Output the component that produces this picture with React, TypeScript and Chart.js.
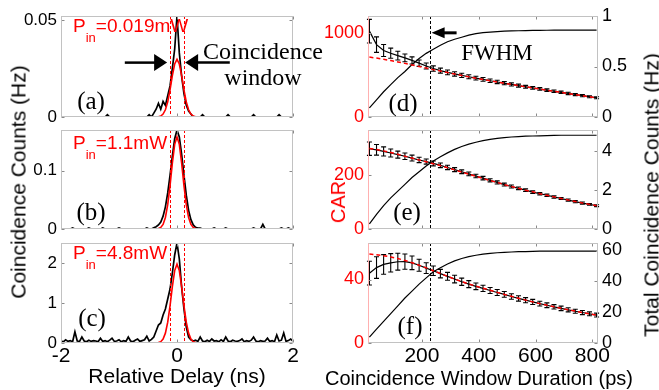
import { useEffect, useRef } from "react";
import { Chart, registerables } from "chart.js";

Chart.register(...registerables);

const SANS = "'Liberation Sans', Arial, Helvetica, sans-serif";
const SERIF = "'Liberation Serif', 'Times New Roman', serif";
const RED = "#ff0000";

// ---------------- left column: coincidence histograms ----------------
// histogram bin centres, -2 ns .. 2 ns in 0.04 ns steps
const DELAY_NS = Array.from({ length: 101 }, (_, i) => Math.round((-2 + i * 0.04) * 100) / 100);
const DELAY_TICKS = [-2, 0, 2];

const COUNTS_A = [
  0, 0, 0, 0, 0, 0, 0, 0, 0, 0,
  0, 0, 0, 0, 0, 0, 0, 0, 0, 0,
  0.0012, 0, 0, 0, 0, 0, 0, 0, 0, 0,
  0, 0, 0, 0, 0, 0, 0, 0, 0.0012, 0,
  0.002, 0.004, 0.007, 0.004, 0.008, 0.006, 0.011, 0.016, 0.025, 0.035,
  0.052, 0.033, 0.021, 0.012, 0.006, 0.003, 0.0015, 0, 0, 0,
  0, 0.0012, 0, 0, 0, 0, 0, 0, 0, 0,
  0, 0, 0.0012, 0, 0, 0, 0, 0, 0, 0,
  0, 0, 0, 0.0012, 0, 0, 0, 0, 0, 0,
  0, 0, 0, 0, 0.0012, 0, 0, 0, 0, 0,
  0,
];
const COUNTS_B = [
  0, 0, 0, 0, 0, 0.0017, 0, 0, 0, 0,
  0, 0, 0.0017, 0, 0, 0, 0, 0, 0.0017, 0,
  0, 0, 0, 0, 0, 0.0017, 0, 0, 0, 0,
  0, 0, 0, 0, 0, 0, 0, 0.0017, 0, 0,
  0.002, 0.004, 0.007, 0.012, 0.022, 0.038, 0.062, 0.092, 0.125, 0.155,
  0.17, 0.158, 0.128, 0.092, 0.058, 0.032, 0.016, 0.007, 0.003, 0.0017,
  0.0017, 0, 0, 0, 0, 0, 0.0017, 0, 0, 0,
  0, 0.0017, 0, 0, 0, 0, 0, 0, 0, 0,
  0, 0, 0, 0.0017, 0, 0, 0, 0.008, 0, 0,
  0, 0, 0, 0, 0, 0.0017, 0, 0, 0.0017, 0,
  0,
];
const COUNTS_C = [
  0.05, 0.03, 0.08, 0.04, 0.06, 0.03, 0.28, 0.05, 0.04, 0.15,
  0.05, 0.03, 0.07, 0.04, 0.06, 0.05, 0.03, 0.12, 0.04, 0.06,
  0.03, 0.07, 0.12, 0.04, 0.05, 0.08, 0.03, 0.06, 0.04, 0.15,
  0.05, 0.03, 0.07, 0.1, 0.04, 0.06, 0.08, 0.17, 0.05, 0.09,
  0.15, 0.3, 0.45, 0.5, 0.7, 0.85, 1.1, 1.35, 1.75, 2.2,
  2.5, 2.1, 1.4, 0.85, 0.4, 0.15, 0.08, 0.05, 0.07, 0.04,
  0.15, 0.05, 0.03, 0.07, 0.04, 0.1, 0.05, 0.06, 0.03, 0.08,
  0.04, 0.15, 0.05, 0.03, 0.07, 0.05, 0.04, 0.06, 0.1, 0.03,
  0.06, 0.04, 0.07, 0.15, 0.05, 0.03, 0.06, 0.04, 0.05, 0.12,
  0.04, 0.06, 0.03, 0.2, 0.05, 0.07, 0.25, 0.04, 0.06, 0.1,
  0.05,
];

// Gaussian fits (red)
const FIT_DELAY_NS = [-2, -0.4, -0.36, -0.32, -0.28, -0.24, -0.2, -0.16, -0.12, -0.08, -0.04, 0,
  0.04, 0.08, 0.12, 0.16, 0.2, 0.24, 0.28, 0.32, 0.36, 0.4, 2];
const FIT_A = [0, 0, 0.00004, 0.00015, 0.0005, 0.0015, 0.0037, 0.0078, 0.014, 0.0213, 0.0273, 0.0297,
  0.0273, 0.0213, 0.014, 0.0078, 0.0037, 0.0015, 0.0005, 0.00015, 0.00004, 0, 0];
const FIT_B = [0, 0, 0.0002, 0.0008, 0.0027, 0.0079, 0.0198, 0.0417, 0.0746, 0.1131, 0.1454, 0.158,
  0.1454, 0.1131, 0.0746, 0.0417, 0.0198, 0.0079, 0.0027, 0.0008, 0.0002, 0, 0];
const FIT_C = [0, 0, 0.0024, 0.0099, 0.0335, 0.0985, 0.246, 0.52, 0.93, 1.41, 1.81, 1.97,
  1.81, 1.41, 0.93, 0.52, 0.246, 0.0985, 0.0335, 0.0099, 0.0024, 0, 0];
const FWHM_EDGES_NS = [-0.115, 0.115];

// ---------------- right column: CAR vs window ----------------
const WINDOW_PS = [15, 40, 65, 90, 115, 140, 165, 190, 215, 240, 265, 290, 315, 340, 365, 390, 415,
  440, 465, 490, 515, 540, 565, 590, 615, 640, 665, 690, 715, 740, 765, 790, 815];
const WINDOW_TICKS = [200, 400, 600, 800];
const FWHM_PS = 230;

const CAR_D = [1020, 860, 790, 758, 730, 702, 672, 640, 606, 576, 551, 530, 512, 495, 478, 462, 447,
  431, 416, 402, 387, 373, 359, 346, 333, 319, 306, 293, 280, 267, 254, 241, 229];
const CAR_D_ERR = [140, 92, 72, 60, 52, 46, 42, 38, 35, 32, 30, 28, 26, 25, 24, 23, 22, 21, 20, 19,
  18, 18, 17, 16, 16, 15, 15, 14, 14, 13, 13, 12, 12];
const CAR_D_FIT = [712, 700, 686, 670, 654, 637, 619, 600, 582, 563, 546, 528, 511, 494, 477, 461, 446,
  431, 416, 401, 387, 373, 359, 346, 333, 318, 306, 292, 279, 266, 253, 240, 228];
const TOTAL_D = [0.09, 0.17, 0.25, 0.32, 0.39, 0.45, 0.52, 0.58, 0.63, 0.67, 0.71, 0.745, 0.77, 0.79,
  0.81, 0.825, 0.835, 0.84, 0.845, 0.85, 0.852, 0.854, 0.856, 0.857, 0.858, 0.859, 0.86, 0.86, 0.86,
  0.86, 0.86, 0.86, 0.86];

const CAR_E = [300, 296, 290, 284, 278, 272, 265, 258, 252, 245, 238, 230, 222, 214, 206, 198, 190,
  182, 174, 166, 159, 152, 145, 138, 132, 126, 120, 114, 108, 102, 97, 92, 87];
const CAR_E_ERR = [25, 20, 17, 15, 13, 12, 11, 10, 9.5, 9, 8.5, 8, 7.5, 7, 7, 6.5, 6.5, 6, 6, 5.5,
  5.5, 5, 5, 5, 4.5, 4.5, 4.5, 4, 4, 4, 4, 3.5, 3.5];
const CAR_E_FIT = [301, 297, 292, 286, 279, 272, 265, 258, 251, 244, 237, 229, 221, 213, 205, 197, 189,
  181, 174, 166, 159, 152, 145, 139, 132, 126, 120, 114, 108, 103, 97, 92, 87];
const TOTAL_E = [0.26, 0.75, 1.2, 1.6, 1.95, 2.3, 2.65, 2.95, 3.25, 3.5, 3.72, 3.92, 4.1, 4.25, 4.37,
  4.47, 4.55, 4.62, 4.67, 4.71, 4.74, 4.76, 4.78, 4.79, 4.8, 4.81, 4.82, 4.83, 4.83, 4.83, 4.83, 4.83, 4.83];

const CAR_F = [44, 47.5, 49.5, 50.5, 51.2, 51.3, 50.5, 49, 47.2, 45.5, 43.7, 42, 40.3, 38.6, 37.1,
  35.7, 34.4, 33.1, 31.8, 30.6, 29.3, 28.1, 27, 25.9, 24.8, 23.8, 22.8, 21.8, 20.9, 20, 19.2, 18.4, 17.6];
const CAR_F_ERR = [7.5, 6.8, 6.2, 5.8, 5.3, 4.8, 4.3, 3.8, 3.4, 3, 2.7, 2.5, 2.4, 2.3, 2.2, 2.1, 2,
  1.9, 1.9, 1.8, 1.7, 1.7, 1.6, 1.6, 1.5, 1.5, 1.4, 1.4, 1.3, 1.3, 1.3, 1.2, 1.2];
const CAR_F_FIT = [56, 55.6, 55, 54.2, 53.2, 52, 50.6, 49, 47.3, 45.5, 43.8, 42, 40.3, 38.7, 37.2,
  35.8, 34.5, 33.2, 31.9, 30.6, 29.4, 28.2, 27, 25.9, 24.8, 23.8, 22.8, 21.9, 21, 20.1, 19.2, 18.4, 17.6];
const TOTAL_F = [3.8, 9, 14, 19, 24, 29, 33.5, 38, 42, 46, 48.5, 51, 53, 54.5, 55.7, 56.6, 57.3, 57.8,
  58.2, 58.5, 58.7, 58.9, 59, 59.1, 59.2, 59.2, 59.3, 59.3, 59.3, 59.3, 59.3, 59.3, 59.3];

// ---------------- helpers ----------------
const pts = (xs: number[], ys: number[]) => xs.map((x, i) => ({ x, y: ys[i] }));

type Arrow = { x1: number; y1: number; x2: number; y2: number; head: number; half: number; width: number };
type FrameCfg = {
  leftSpine?: string;
  mirrorY: boolean;
  vlines: { x: number; color: string }[];
  arrows: Arrow[];
};

function framePlugin(cfg: FrameCfg) {
  return {
    id: "frame",
    afterDatasetDraw(chart: any, args: any) {
      const ds = chart.data.datasets[args.index];
      if (!ds.errors) return;
      const xs = chart.scales.x;
      const ys = chart.scales[ds.yAxisID || "y"];
      const ctx = chart.ctx;
      ctx.save();
      ctx.strokeStyle = "#000";
      ctx.lineWidth = 1.1;
      ds.data.forEach((p: any, i: number) => {
        const px = xs.getPixelForValue(p.x);
        const yLo = ys.getPixelForValue(p.y - ds.errors[i]);
        const yHi = ys.getPixelForValue(p.y + ds.errors[i]);
        ctx.beginPath();
        ctx.moveTo(px, yLo);
        ctx.lineTo(px, yHi);
        ctx.moveTo(px - 2.5, yLo);
        ctx.lineTo(px + 2.5, yLo);
        ctx.moveTo(px - 2.5, yHi);
        ctx.lineTo(px + 2.5, yHi);
        ctx.stroke();
      });
      ctx.restore();
    },
    afterDatasetsDraw(chart: any) {
      const { ctx, chartArea: a, scales } = chart;
      const xs = scales.x;
      const ys = scales.y;
      ctx.save();
      ctx.lineWidth = 1;
      ctx.setLineDash([3, 2]);
      for (const v of cfg.vlines) {
        const px = Math.round(xs.getPixelForValue(v.x)) + 0.5;
        ctx.strokeStyle = v.color;
        ctx.beginPath();
        ctx.moveTo(px, a.top);
        ctx.lineTo(px, a.bottom);
        ctx.stroke();
      }
      ctx.setLineDash([]);
      ctx.fillStyle = "#000";
      ctx.strokeStyle = "#000";
      for (const ar of cfg.arrows) {
        const x1 = xs.getPixelForValue(ar.x1);
        const y1 = ys.getPixelForValue(ar.y1);
        const x2 = xs.getPixelForValue(ar.x2);
        const y2 = ys.getPixelForValue(ar.y2);
        const ang = Math.atan2(y2 - y1, x2 - x1);
        const c = Math.cos(ang);
        const s = Math.sin(ang);
        const bx = x2 - c * ar.head;
        const by = y2 - s * ar.head;
        ctx.lineWidth = ar.width;
        ctx.beginPath();
        ctx.moveTo(x1, y1);
        ctx.lineTo(bx + c, by + s);
        ctx.stroke();
        ctx.beginPath();
        ctx.moveTo(x2, y2);
        ctx.lineTo(bx - s * ar.half, by + c * ar.half);
        ctx.lineTo(bx + s * ar.half, by - c * ar.half);
        ctx.closePath();
        ctx.fill();
      }
      ctx.restore();
    },
    afterDraw(chart: any) {
      const { ctx, chartArea: a, scales } = chart;
      const L = Math.round(a.left) + 0.5;
      const R = Math.round(a.right) - 0.5;
      const T = Math.round(a.top) + 0.5;
      const B = Math.round(a.bottom) - 0.5;
      const TL = 3;
      ctx.save();
      ctx.lineWidth = 1;
      ctx.strokeStyle = "#8a8a8a";
      const line = (x1: number, y1: number, x2: number, y2: number) => {
        ctx.beginPath();
        ctx.moveTo(x1, y1);
        ctx.lineTo(x2, y2);
        ctx.stroke();
      };
      for (const t of scales.x.ticks) {
        const px = Math.round(scales.x.getPixelForValue(t.value)) + 0.5;
        line(px, B, px, B - TL);
        line(px, T, px, T + TL);
      }
      for (const t of scales.y.ticks) {
        const py = Math.round(scales.y.getPixelForValue(t.value)) + 0.5;
        line(L, py, L + TL, py);
        if (cfg.mirrorY) line(R, py, R - TL, py);
      }
      if (scales.y2) {
        for (const t of scales.y2.ticks) {
          const py = Math.round(scales.y2.getPixelForValue(t.value)) + 0.5;
          line(R, py, R - TL, py);
        }
      }
      ctx.strokeStyle = "#c2c2c2";
      ctx.strokeRect(L, T, R - L, B - T);
      if (cfg.leftSpine) {
        ctx.strokeStyle = cfg.leftSpine;
        line(L, T, L, B);
      }
      ctx.restore();
    },
  };
}

const noPad = (s: any) => {
  s.paddingTop = 0;
  s.paddingBottom = 0;
  s.paddingLeft = 0;
  s.paddingRight = 0;
};
const setTicks = (vals: number[]) => (s: any) => {
  s.ticks = vals.map((v) => ({ value: v }));
};
const fmt = (v: any) => String(v);

function xScale(min: number, max: number, ticks: number[], bottom: boolean, title: string | null) {
  return {
    type: "linear",
    min,
    max,
    grid: { display: false, drawTicks: false },
    border: { display: false },
    afterBuildTicks: setTicks(ticks),
    afterFit: (s: any) => {
      s.height = bottom ? 47 : 12;
      noPad(s);
    },
    ticks: {
      display: bottom,
      autoSkip: false,
      maxRotation: 0,
      padding: 1,
      color: "#000",
      font: { family: SANS, size: 21 },
      callback: fmt,
    },
    title: { display: bottom && !!title, text: title || "", color: "#000", font: { family: SANS, size: 21 }, padding: 0 },
  };
}

function yScale(max: number, ticks: number[], width: number, color: string, size: number, position: string) {
  return {
    type: "linear",
    position,
    min: 0,
    max,
    grid: { display: false, drawTicks: false },
    border: { display: false },
    afterBuildTicks: setTicks(ticks),
    afterFit: (s: any) => {
      s.width = width;
      noPad(s);
    },
    ticks: { autoSkip: false, padding: 4, color, font: { family: SANS, size }, callback: fmt },
  };
}

const baseOptions = {
  animation: false,
  responsive: false,
  devicePixelRatio: 1,
  events: [],
  plugins: { legend: { display: false }, tooltip: { enabled: false } },
};

function leftPanel(counts: number[], fit: number[], yMax: number, yTicks: number[], bottom: boolean, arrows: Arrow[]) {
  return {
    type: "line",
    data: {
      datasets: [
        { data: pts(FIT_DELAY_NS, fit), borderColor: RED, borderWidth: 1.6, pointRadius: 0, order: 0 },
        { data: pts(DELAY_NS, counts), borderColor: "#000", borderWidth: 1.7, pointRadius: 0, order: 1 },
      ],
    },
    options: {
      ...baseOptions,
      layout: { padding: { top: 10, right: 7, bottom: 0, left: 0 } },
      scales: {
        x: xScale(-2, 2, DELAY_TICKS, bottom, "Relative Delay (ns)"),
        y: yScale(yMax, yTicks, 61, "#000", 17, "left"),
      },
    },
    plugins: [
      framePlugin({
        mirrorY: true,
        vlines: FWHM_EDGES_NS.map((x) => ({ x, color: RED })),
        arrows,
      }),
    ],
  };
}

function rightPanel(
  car: number[], err: number[], fit: number[], total: number[],
  yMax: number, yTicks: number[], y2Max: number, y2Ticks: number[], bottom: boolean, arrows: Arrow[],
) {
  return {
    type: "line",
    data: {
      datasets: [
        { data: pts(WINDOW_PS, fit), yAxisID: "y", borderColor: RED, borderDash: [4, 3], borderWidth: 1.5, pointRadius: 0, order: 0 },
        { data: pts(WINDOW_PS, car), yAxisID: "y", errors: err, borderColor: "#000", borderWidth: 1.2, pointRadius: 0, order: 1 },
        { data: pts(WINDOW_PS, total), yAxisID: "y2", borderColor: "#000", borderWidth: 1.2, pointRadius: 0, order: 2 },
      ],
    },
    options: {
      ...baseOptions,
      layout: { padding: { top: 10, right: 0, bottom: 0, left: 0 } },
      scales: {
        x: xScale(10, 820, WINDOW_TICKS, bottom, null),
        y: yScale(yMax, yTicks, 60, RED, 18, "left"),
        y2: yScale(y2Max, y2Ticks, 55, "#000", 18, "right"),
      },
    },
    plugins: [
      framePlugin({
        leftSpine: "#ffb0b0",
        mirrorY: false,
        vlines: [{ x: FWHM_PS, color: "#000" }],
        arrows,
      }),
    ],
  };
}

const ARROWS_A: Arrow[] = [
  { x1: -0.9, y1: 0.028, x2: -0.17, y2: 0.028, head: 13, half: 8.5, width: 2.5 },
  { x1: 0.91, y1: 0.028, x2: 0.14, y2: 0.028, head: 13, half: 8.5, width: 2.5 },
];
const ARROWS_D: Arrow[] = [{ x1: 322, y1: 1000, x2: 234, y2: 1000, head: 13, half: 5.5, width: 3 }];

type Box = { left: number; top: number; width: number; height: number };

function ChartCanvas({ box, make }: { box: Box; make: () => any }) {
  const ref = useRef<HTMLCanvasElement>(null);
  useEffect(() => {
    const chart = new Chart(ref.current as HTMLCanvasElement, make());
    return () => chart.destroy();
  }, []);
  return (
    <canvas
      ref={ref}
      width={box.width}
      height={box.height}
      style={{ position: "absolute", left: box.left, top: box.top, width: box.width, height: box.height }}
    />
  );
}

function Pin({ left, top, value }: { left: number; top: number; value: string }) {
  return (
    <div style={{ position: "absolute", left, top, color: RED, fontFamily: SANS, fontSize: 19, lineHeight: "19px", whiteSpace: "nowrap" }}>
      P<span style={{ fontSize: 13, position: "relative", top: 10 }}>in</span>
      {value}
    </div>
  );
}

function Label({ cx, cy, text, size = 25, family = SERIF }: { cx: number; cy: number; text: string; size?: number; family?: string }) {
  return (
    <div
      style={{
        position: "absolute", left: cx, top: cy, transform: "translate(-50%, -50%)",
        fontFamily: family, fontSize: size, lineHeight: 1, whiteSpace: "nowrap", color: "#000",
      }}
    >
      {text}
    </div>
  );
}

function VTitle({ cx, cy, text, color = "#000", size = 21 }: { cx: number; cy: number; text: string; color?: string; size?: number }) {
  return (
    <div
      style={{
        position: "absolute", left: cx, top: cy, transform: "translate(-50%, -50%) rotate(-90deg)",
        fontFamily: SANS, fontSize: size, lineHeight: 1, whiteSpace: "nowrap", color,
      }}
    >
      {text}
    </div>
  );
}

export default function App() {
  return (
    <div style={{ position: "fixed", left: 0, top: 0, width: 659, height: 390, background: "#fff", overflow: "hidden" }}>
      <ChartCanvas box={{ left: 0, top: 6, width: 300, height: 123 }} make={() => leftPanel(COUNTS_A, FIT_A, 0.052, [0, 0.05], false, ARROWS_A)} />
      <ChartCanvas box={{ left: 0, top: 120, width: 300, height: 121 }} make={() => leftPanel(COUNTS_B, FIT_B, 0.17, [0, 0.1], false, [])} />
      <ChartCanvas box={{ left: 0, top: 233, width: 300, height: 157 }} make={() => leftPanel(COUNTS_C, FIT_C, 2.5, [0, 1, 2], true, [])} />

      <ChartCanvas box={{ left: 308, top: 6, width: 345, height: 123 }} make={() => rightPanel(CAR_D, CAR_D_ERR, CAR_D_FIT, TOTAL_D, 1200, [0, 1000], 1, [0, 0.5, 1], false, ARROWS_D)} />
      <ChartCanvas box={{ left: 308, top: 120, width: 345, height: 121 }} make={() => rightPanel(CAR_E, CAR_E_ERR, CAR_E_FIT, TOTAL_E, 370, [0, 200], 5.1, [0, 2, 4], false, [])} />
      <ChartCanvas box={{ left: 308, top: 233, width: 345, height: 157 }} make={() => rightPanel(CAR_F, CAR_F_ERR, CAR_F_FIT, TOTAL_F, 63, [0, 40], 64.5, [0, 20, 40, 60], true, [])} />

      <Pin left={73} top={16} value="=0.019mW" />
      <Pin left={73} top={133} value="=1.1mW" />
      <Pin left={73} top={243} value="=4.8mW" />

      <Label cx={91} cy={100} text="(a)" />
      <Label cx={91} cy={211} text="(b)" />
      <Label cx={92} cy={317} text="(c)" />
      <Label cx={403} cy={102} text="(d)" />
      <Label cx={407} cy={211} text="(e)" />
      <Label cx={410} cy={325} text="(f)" />

      <Label cx={263} cy={51} text="Coincidence" size={24} />
      <Label cx={263} cy={77} text="window" size={24} />
      <Label cx={497} cy={52} text="FWHM" size={23} />

      <Label cx={479} cy={378} text="Coincidence Window Duration (ps)" size={20} family={SANS} />

      <VTitle cx={18} cy={182} text="Coincidence Counts (Hz)" />
      <VTitle cx={338} cy={202} text="CAR" color={RED} size={20} />
      <VTitle cx={651} cy={195} text="Total Coincidence Counts (Hz)" />
    </div>
  );
}
